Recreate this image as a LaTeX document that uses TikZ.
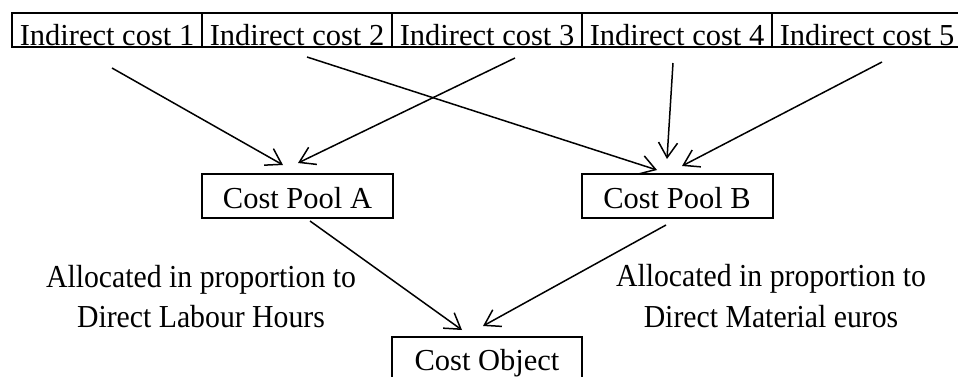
\documentclass[tikz,border=0pt]{standalone}
\usepackage{graphicx}
\usepackage{fontspec}
\setmainfont{Liberation Serif}
\usetikzlibrary{arrows.meta}

% slightly narrowed lettering for the allocation notes
\newcommand{\narrowtext}[1]{\scalebox{0.93}[1]{#1}}

\tikzset{
  basefont/.style={font=\fontsize{30.5}{41}\selectfont},
  costbox/.style={basefont, draw, line width=2pt, inner sep=0pt,
    minimum width=190pt, text height=32pt, text depth=2pt},
  poolbox/.style={basefont, draw, line width=2pt, inner sep=0pt,
    minimum width=191pt, text height=34pt, text depth=10pt},
  alloclabel/.style={font=\fontsize{32}{41}\selectfont, inner sep=0pt, anchor=base},
  flow/.style={line width=1.5pt, -{Straight Barb[length=15pt,width=19pt]}},
}

\begin{document}
\begin{tikzpicture}[x=1pt,y=-1pt]
\useasboundingbox (0,0) rectangle (958,376);
\clip (0,0) rectangle (958,376);

% row of indirect costs (the last box runs past the right edge)
\node[costbox] (ic1) at (107,30) {Indirect cost 1};
\node[costbox] (ic2) at (297,30) {Indirect cost 2};
\node[costbox] (ic3) at (487,30) {Indirect cost 3};
\node[costbox] (ic4) at (677,30) {Indirect cost 4};
\node[costbox] (ic5) at (867,30) {Indirect cost 5};

% cost pools
\node[poolbox] (poolA) at (297.5,196) {Cost Pool A};
\node[poolbox] (poolB) at (677,196) {Cost Pool B};

% final cost object
\node[poolbox, minimum width=190pt, text height=33pt, text depth=11pt] (obj) at (487,359) {Cost Object};

% allocation bases
\node[alloclabel] (lblA1) at (201,287) {\narrowtext{Allocated in proportion to}};
\node[alloclabel] (lblA2) at (201,327) {\narrowtext{Direct Labour Hours}};
\node[alloclabel] (lblB1) at (771,286) {\narrowtext{Allocated in proportion to}};
\node[alloclabel] (lblB2) at (771,327) {\narrowtext{Direct Material euros}};

% costs into pools
\draw[flow] ([shift={(5,20)}]ic1.south)  -- ([shift={(-14.5,-8)}]poolA.north);
\draw[flow] ([shift={(10,9)}]ic2.south)  -- ([shift={(-20,-3)}]poolB.north);
\draw[flow] ([shift={(28,10)}]ic3.south) -- ([shift={(0.5,-10)}]poolA.north);
\draw[flow] ([shift={(-4,15)}]ic4.south) -- ([shift={(-10,-14)}]poolB.north);
\draw[flow] ([shift={(15,14)}]ic5.south) -- ([shift={(5,-7)}]poolB.north);

% pools into cost object
\draw[flow] ([shift={(12.5,2)}]poolA.south) -- ([shift={(-25,-6)}]obj.north);
\draw[flow] ([shift={(-11,6)}]poolB.south)  -- ([shift={(-4,-10)}]obj.north);
\end{tikzpicture}
\end{document}
